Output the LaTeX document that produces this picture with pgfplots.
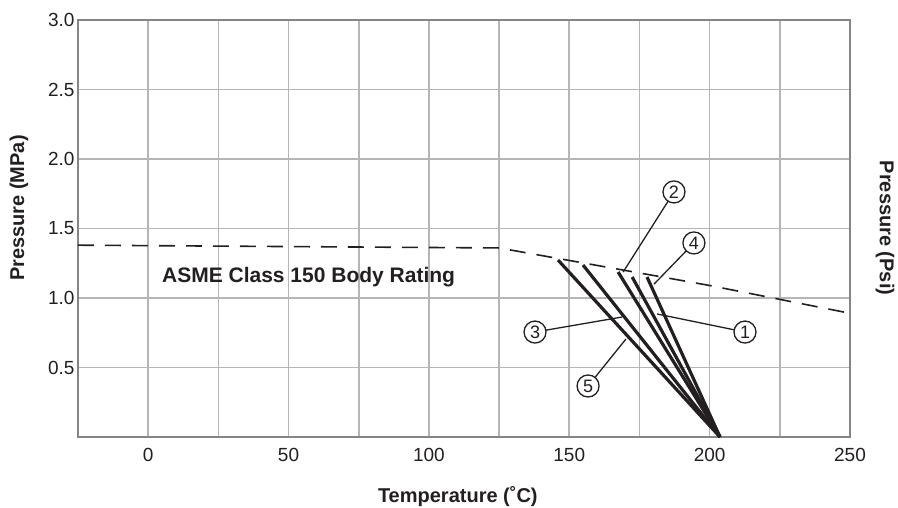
\documentclass[border=0pt]{standalone}
\usepackage{fontspec}
\setmainfont{Liberation Sans}
\usepackage{pgfplots}
\pgfplotsset{compat=1.18}
\definecolor{ink}{HTML}{231F20}
\definecolor{gridgray}{HTML}{B5B5B5}
\definecolor{framegray}{HTML}{858585}

\begin{document}
\begin{tikzpicture}
\begin{axis}[
  at={(0,0)}, anchor=south west,
  scale only axis, width=772pt, height=417pt,
  xmin=-25, xmax=250, ymin=0, ymax=3,
  xtick={0,50,100,150,200,250},
  minor xtick={-25,25,75,125,175,225},
  ytick={0.5,1.0,1.5,2.0,2.5,3.0},
  yticklabel style={/pgf/number format/.cd, fixed, fixed zerofill, precision=1},
  /pgf/number format/assume math mode=true,
  tick label style={font=\fontsize{19}{21}\selectfont, text=ink},
  xticklabel style={anchor=center, yshift=-18pt},
  major tick length=0pt, minor tick length=0pt,
  grid=both,
  major grid style={gridgray, line width=1.6pt},
  minor grid style={gridgray, line width=1.6pt},
  axis line style={framegray, line width=1.6pt},
  xlabel={Temperature (˚C)},
  xlabel style={font=\bfseries\fontsize{20}{22}\selectfont, text=ink,
    at={(rel axis cs:0.492,0)}, anchor=center, yshift=-60pt},
  ylabel={Pressure (MPa)},
  ylabel style={font=\bfseries\fontsize{20}{22}\selectfont, text=ink,
    at={(rel axis cs:0,0.549)}, anchor=center, yshift=59pt},
  clip=false,
]
% body rating
\addplot[ink, line width=1.6pt, dash pattern=on 16pt off 11pt] coordinates {
  (-25,1.38) (125,1.36) (150,1.27) (175,1.18) (200,1.09) (225,0.99) (250,0.89)
};
% valve curves
\addplot[ink, line width=3.2pt] coordinates {(146.0,1.273) (203.7,0)};
\addplot[ink, line width=3.2pt] coordinates {(154.9,1.237) (203.7,0)};
\addplot[ink, line width=3.2pt] coordinates {(167.4,1.187) (203.7,0)};
\addplot[ink, line width=3.2pt] coordinates {(172.4,1.151) (203.7,0)};
\addplot[ink, line width=3.2pt] coordinates {(177.7,1.151) (203.7,0)};
% leaders
\addplot[ink, line width=1.3pt] coordinates {(187.3,1.763) (169.2,1.187)};
\addplot[ink, line width=1.3pt] coordinates {(194.4,1.396) (180.2,1.10)};
\addplot[ink, line width=1.3pt] coordinates {(137.8,0.755) (168.8,0.863)};
\addplot[ink, line width=1.3pt] coordinates {(212.6,0.755) (181.3,0.885)};
\addplot[ink, line width=1.3pt] coordinates {(156.7,0.367) (170.2,0.705)};

\tikzset{num/.style={circle, draw=ink, line width=1.3pt, fill=white, text=ink,
  minimum size=22pt, inner sep=0pt, font=\fontsize{18}{18}\selectfont}}
\node[num] at (axis cs:212.6,0.755) {1};
\node[num] at (axis cs:187.3,1.763) {2};
\node[num] at (axis cs:137.8,0.755) {3};
\node[num] at (axis cs:194.4,1.396) {4};
\node[num] at (axis cs:156.7,0.367) {5};

\node[anchor=base west, inner sep=0pt, text=ink, font=\bfseries\fontsize{21}{23}\selectfont]
  at (axis cs:4.9,1.115) {ASME Class 150 Body Rating};
\node[xshift=35pt, rotate=-90, anchor=center, text=ink, font=\bfseries\fontsize{20}{22}\selectfont]
  at (rel axis cs:1,0.501) {Pressure (Psi)};
\end{axis}
\pgfresetboundingbox
\useasboundingbox (-78pt,-71pt) rectangle (820pt,437pt);
\end{tikzpicture}
\end{document}
